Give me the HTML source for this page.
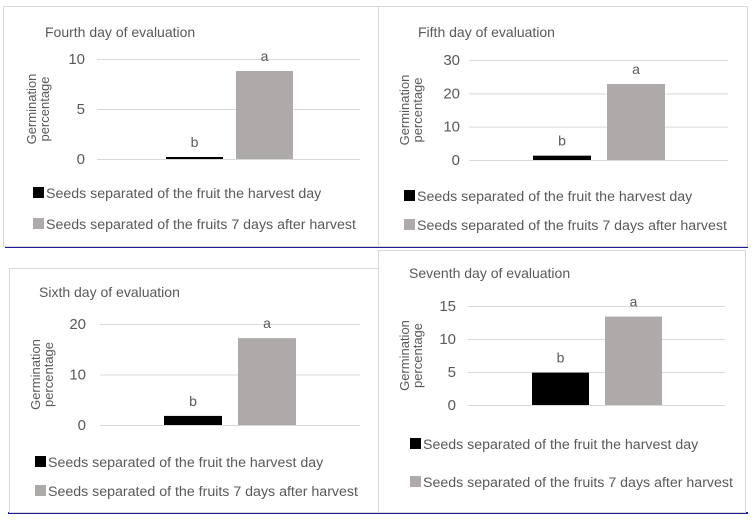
<!DOCTYPE html>
<html><head><meta charset="utf-8">
<style>
html,body{margin:0;padding:0;background:#fff;}
svg{display:block;font-family:"Liberation Sans",sans-serif;}
text{fill:#595959;}
</style></head>
<body>
<svg id="fig" width="754" height="520" viewBox="0 0 754 520">
  <rect x="0" y="0" width="754" height="520" fill="#fff"/>
  <rect x="5" y="246" width="743" height="2" fill="#1c1c96"/>
  <rect x="8" y="512" width="740" height="2" fill="#1c1c96"/>
</svg>
<script>
const titles = ["Fourth day of evaluation","Fifth day of evaluation","Sixth day of evaluation","Seventh day of evaluation"];
const seriesNames = ["Seeds separated of the fruit the harvest day","Seeds separated of the fruits 7 days after harvest"];
const harvestDay = [0.2, 1.3, 1.8, 4.9];
const sevenDays = [8.8, 22.8, 17.2, 13.4];
const letters = [["b","a"],["b","a"],["b","a"],["b","a"]];
const ticks4 = [0,5,10];
const ticks5 = [0,10,20,30];
const ticks6 = [0,10,20];
const ticks7 = [0,5,10,15];
const yMax = [10,30,20,15];

const NS="http://www.w3.org/2000/svg";
const svg=document.getElementById('fig');
function mk(tag,attrs,parent){const e=document.createElementNS(NS,tag);for(const k in attrs)e.setAttribute(k,attrs[k]);(parent||svg).appendChild(e);return e;}

const L=[
 {bx:3,by:6,bw:375,bh:240,tx:45,ty:37,px0:97,px1:360,py0:159,py1:59,b1:166,b2:236,bw2:57,lx:85,yt:37,lg1:193,lg2:224,sq:33},
 {bx:378,by:6,bw:369,bh:240,tx:418,ty:37,px0:469,px1:728,py0:160,py1:60,b1:533,b2:607,bw2:58,lx:460,yt:410,lg1:196,lg2:225,sq:404},
 {bx:9,by:268,bw:369,bh:244,tx:39,ty:297,px0:100,px1:360,py0:425,py1:324,b1:164,b2:238,bw2:58,lx:86,yt:41,lg1:462,lg2:491,sq:35},
 {bx:378,by:250,bw:367,bh:262,tx:409,ty:278,px0:468,px1:725,py0:405,py1:306,b1:532,b2:605,bw2:57,lx:456,yt:410,lg1:444,lg2:482,sq:410}
];
const tickSets=[ticks4,ticks5,ticks6,ticks7];
const colors=["#000000","#aeaaaa"];

for(let i=0;i<4;i++){
  const p=L[i];
  const g=mk('g',{});
  
  
  const br=mk('rect',{x:p.bx+0.5,y:p.by+0.5,width:p.bw,height:p.bh,fill:'none',stroke:'#d9d9d9'},g);
  
  
  const t=mk('text',{x:p.tx,y:p.ty,'font-size':'14'},g);t.textContent=titles[i];
  
  
  const y=v=>p.py0-(v/yMax[i])*(p.py0-p.py1);
  tickSets[i].forEach(v=>{
    const ln=mk('line',{x1:p.px0,x2:p.px1,y1:y(v)+0.5,y2:y(v)+0.5,stroke:'#d9d9d9'},g);
    
    
    const tl=mk('text',{x:p.lx,y:y(v)+5,'font-size':'15','text-anchor':'end'},g);tl.textContent=v;
    
    
  });
  const yt=mk('text',{transform:`translate(${p.yt},${(p.py0+p.py1)/2}) rotate(-90)`,'font-size':'13','text-anchor':'middle'},g);
  
  
  const s1=mk('tspan',{x:0,dy:-1},yt);s1.textContent='Germination';
  const s2=mk('tspan',{x:0,dy:13},yt);s2.textContent='percentage';
  const vals=[harvestDay[i],sevenDays[i]];
  const xs=[p.b1,p.b2];
  vals.forEach((v,k)=>{
    const top=y(v);
    const r=mk('rect',{x:xs[k],y:top,width:p.bw2,height:Math.max(p.py0-top,1),fill:colors[k]},g);
    
    
    const lt=mk('text',{x:xs[k]+p.bw2/2,y:top-10,'font-size':'14','text-anchor':'middle',fill:'#404040'},g);
    lt.textContent=letters[i][k];
    
    
  });
  [p.lg1,p.lg2].forEach((ly,k)=>{
    const sq=mk('rect',{x:p.sq,y:ly-6,width:11,height:11,fill:colors[k]},g);
    
    
    const lt=mk('text',{x:p.sq+13,y:ly+5,'font-size':'14.2'},g);lt.textContent=seriesNames[k];
    
    
  });
}
</script>
</body></html>
